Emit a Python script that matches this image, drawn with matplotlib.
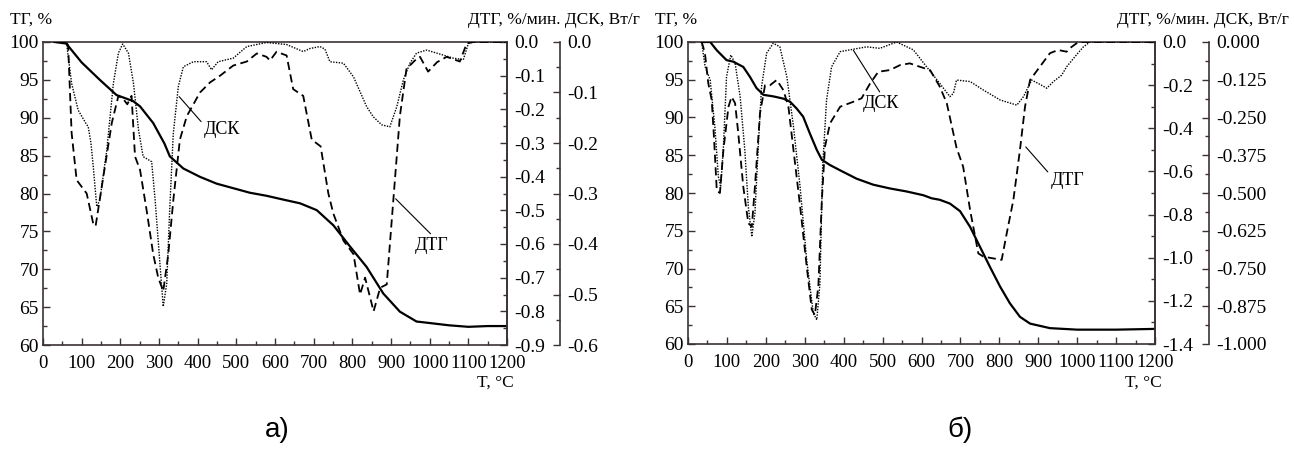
import matplotlib
matplotlib.use("Agg")
import matplotlib.pyplot as plt
from matplotlib.ticker import MultipleLocator, FormatStrFormatter

plt.rcParams['font.family'] = ['Liberation Serif', 'DejaVu Serif']
plt.rcParams['axes.unicode_minus'] = False

# ---- sample а ----
a_tg_t = [30, 60, 100, 147, 190, 233, 251, 285, 314, 328, 363, 406, 449, 492, 535,
          578, 621, 665, 708, 751, 794, 837, 880, 923, 966, 1000, 1050, 1100, 1150, 1200]
a_tg = [100, 99.8, 97.3, 95.0, 93.0, 92.2, 91.5, 89.3, 86.6, 84.9, 83.3, 82.2, 81.3, 80.7, 80.1,
        79.7, 79.2, 78.7, 77.8, 75.8, 73.0, 70.3, 66.8, 64.4, 63.1, 62.9, 62.6, 62.4, 62.5, 62.5]

a_dtg_t = [30, 60, 65, 74, 87, 113, 130, 136, 156, 178, 195, 208, 218, 229, 238, 251, 268, 285,
           298, 311, 324, 337, 354, 372, 406, 432, 458, 492, 527, 553, 578, 587, 604, 630, 647,
           673, 695, 718, 738, 751, 777, 803, 820, 833, 855, 872, 889, 906, 923, 940, 966, 975,
           996, 1019, 1044, 1078, 1096, 1113, 1200]
a_dtg = [0, 0, -0.01, -0.27, -0.41, -0.45, -0.54, -0.547, -0.40, -0.24, -0.16, -0.17, -0.185,
         -0.16, -0.34, -0.38, -0.50, -0.63, -0.70, -0.74, -0.63, -0.47, -0.29, -0.22, -0.15,
         -0.12, -0.10, -0.07, -0.058, -0.034, -0.044, -0.055, -0.029, -0.04, -0.14, -0.16,
         -0.29, -0.31, -0.45, -0.51, -0.59, -0.63, -0.75, -0.70, -0.80, -0.73, -0.72, -0.47,
         -0.22, -0.08, -0.05, -0.044, -0.088, -0.06, -0.044, -0.058, -0.004, 0, 0]

a_dsc_t = [30, 55, 61, 74, 91, 110, 117, 124, 130, 139, 147, 165, 182, 195, 206, 221, 234, 247,
           259, 281, 290, 303, 311, 320, 328, 337, 350, 363, 389, 423, 436, 453, 492, 527, 578,
           630, 673, 690, 716, 729, 742, 777, 803, 837, 854, 876, 897, 915, 932, 949, 966, 992,
           1027, 1061, 1087, 1100, 1113, 1200]
a_dsc = [0, 0, -0.003, -0.082, -0.135, -0.16, -0.168, -0.20, -0.247, -0.326, -0.313, -0.214,
         -0.082, -0.022, -0.004, -0.022, -0.082, -0.174, -0.227, -0.237, -0.313, -0.445, -0.524,
         -0.478, -0.326, -0.181, -0.088, -0.049, -0.039, -0.039, -0.055, -0.039, -0.032, -0.009,
         -0.001, -0.005, -0.019, -0.013, -0.009, -0.014, -0.039, -0.042, -0.069, -0.128, -0.148,
         -0.164, -0.168, -0.128, -0.075, -0.042, -0.022, -0.016, -0.024, -0.032, -0.035, -0.003,
         0, 0]

# ---- sample б ----
b_tg_t = [35, 57, 74, 99, 116, 142, 159, 176, 194, 219, 245, 262, 279, 296, 313, 331, 344, 365,
          391, 433, 476, 519, 562, 605, 626, 647, 673, 699, 725, 750, 776, 802, 827, 853, 879,
          930, 1000, 1100, 1200]
b_tg = [100, 100, 98.9, 97.6, 97.4, 96.7, 95.4, 93.9, 93.0, 92.8, 92.5, 92.1, 91.2, 90.1, 87.9,
        85.7, 84.4, 83.7, 83.0, 81.9, 81.1, 80.6, 80.2, 79.7, 79.3, 79.1, 78.6, 77.6, 75.5, 72.9,
        70.2, 67.6, 65.4, 63.6, 62.7, 62.1, 61.9, 61.9, 62.0]

b_dtg_t = [35, 39, 44, 52, 61, 67, 74, 82, 91, 104, 112, 121, 129, 142, 155, 164, 172, 185, 198,
           211, 228, 245, 258, 271, 288, 305, 318, 326, 335, 344, 352, 365, 391, 425, 446, 468,
           489, 519, 545, 570, 596, 622, 647, 665, 690, 707, 725, 746, 759, 784, 806, 819, 836,
           853, 866, 879, 904, 930, 951, 973, 981, 1003, 1200]
b_dtg = [0, -0.022, -0.06, -0.19, -0.27, -0.45, -0.69, -0.70, -0.50, -0.30, -0.254, -0.284,
         -0.42, -0.67, -0.84, -0.856, -0.67, -0.33, -0.20, -0.20, -0.176, -0.223, -0.30, -0.50,
         -0.76, -1.04, -1.24, -1.266, -1.13, -0.73, -0.485, -0.377, -0.30, -0.277, -0.261,
         -0.192, -0.138, -0.13, -0.107, -0.099, -0.115, -0.13, -0.207, -0.284, -0.49, -0.578,
         -0.78, -0.98, -0.995, -1.003, -1.01, -0.887, -0.733, -0.50, -0.30, -0.176, -0.115,
         -0.052, -0.037, -0.045, -0.029, 0, 0]

b_dsc_t = [35, 44, 57, 69, 78, 84, 91, 99, 110, 121, 134, 146, 155, 164, 172, 181, 189, 202, 219,
           236, 254, 271, 288, 305, 322, 331, 339, 346, 356, 369, 391, 416, 459, 493, 536, 579,
           613, 647, 673, 682, 690, 725, 759, 802, 845, 862, 883, 904, 922, 939, 960, 973, 994,
           1016, 1033, 1200]
b_dsc = [0, -0.082, -0.126, -0.28, -0.446, -0.48, -0.347, -0.115, -0.043, -0.07, -0.181, -0.358,
         -0.545, -0.645, -0.567, -0.335, -0.148, -0.037, -0.004, -0.016, -0.115, -0.28, -0.479,
         -0.722, -0.898, -0.92, -0.80, -0.413, -0.192, -0.082, -0.032, -0.026, -0.016, -0.021, 0,
         -0.026, -0.082, -0.137, -0.181, -0.17, -0.126, -0.131, -0.159, -0.192, -0.209, -0.181,
         -0.126, -0.14, -0.153, -0.131, -0.11, -0.082, -0.049, -0.016, 0, 0]

W, H = 1294, 451
SPINE = '#3a3232'
FS_TICK = 14
FS_XTICK = 13.5
FS_TEXT = 12.5
FS_NOTE = 13

fig = plt.figure(figsize=(W / 100, H / 100), dpi=100)


def px_box(x0, y0, x1, y1):
    return [x0 / W, 1 - y1 / H, (x1 - x0) / W, (y1 - y0) / H]


def style_ticks(ax):
    ax.tick_params(which='both', direction='in', colors=SPINE, labelcolor='black',
                   labelsize=FS_TICK, width=1.0)
    ax.tick_params(which='major', length=5)
    ax.tick_params(which='minor', length=3)


def side_axis(ax, ymin, step, fmt):
    ax.set_ylim(ymin, 0)
    ax.yaxis.set_major_locator(MultipleLocator(step))
    ax.yaxis.set_minor_locator(MultipleLocator(step / 2))
    ax.yaxis.set_major_formatter(FormatStrFormatter(fmt))
    style_ticks(ax)
    ax.tick_params(axis='y', pad=5)
    for s in ax.spines.values():
        s.set_visible(False)
    ax.spines['right'].set_visible(True)
    ax.spines['right'].set_color(SPINE)
    ax.spines['right'].set_linewidth(1.2)


def draw_panel(box, dsc_x, tg, dtg, dsc, dtg_min, dtg_step, dsc_min, dsc_step, dsc_fmt,
               notes, letter, letter_x):
    x0, y0, x1, y1 = box
    ax = fig.add_axes(px_box(x0, y0, x1, y1))
    ax_dtg = ax.twinx()
    ax_dsc = ax.twinx()

    ax.set_xlim(0, 1200)
    ax.set_ylim(60, 100)
    ax.xaxis.set_major_locator(MultipleLocator(100))
    ax.xaxis.set_minor_locator(MultipleLocator(50))
    ax.yaxis.set_major_locator(MultipleLocator(5))
    ax.yaxis.set_minor_locator(MultipleLocator(2.5))
    style_ticks(ax)
    ax.tick_params(axis='y', pad=3)
    ax.tick_params(axis='x', pad=7, labelsize=FS_XTICK)
    ax.tick_params(axis='x', which='both', top=False)
    for s in ax.spines.values():
        s.set_color(SPINE)
        s.set_linewidth(1.2)

    side_axis(ax_dtg, dtg_min, dtg_step, '%.1f')
    side_axis(ax_dsc, dsc_min, dsc_step, dsc_fmt)
    ax_dsc.spines['right'].set_position(('axes', (dsc_x - x0) / (x1 - x0)))

    ax.plot(tg[0], tg[1], color='black', lw=1.6, zorder=5)
    ax_dtg.plot(dtg[0], dtg[1], color='black', lw=1.3, dashes=(4.5, 2.5))
    ax_dsc.plot(dsc[0], dsc[1], color='black', lw=1.0, linestyle=(0, (1, 1)))

    for label, xy, xytext, rel in notes:
        ax.annotate(label, xy=xy, xytext=xytext, fontsize=FS_NOTE, ha='center', va='center',
                    arrowprops=dict(arrowstyle='-', color='black', lw=0.8,
                                    shrinkA=0, shrinkB=0, relpos=rel), zorder=6)

    fig.text((x0 - 33) / W, 1 - 20 / H, 'ТГ, %', fontsize=FS_TEXT, ha='left', va='center')
    fig.text((dsc_x + 80) / W, 1 - 20 / H, 'ДТГ, %/мин. ДСК, Вт/г', fontsize=FS_TEXT,
             ha='right', va='center')
    fig.text((x1 - 12) / W, 1 - 383 / H, 'T, °C', fontsize=FS_TEXT, ha='center', va='center')
    fig.text(letter_x / W, 1 - 430 / H, letter, fontsize=20, ha='center', va='center',
             family='Liberation Sans')


draw_panel((43, 42, 507, 345), 560,
           (a_tg_t, a_tg), (a_dtg_t, a_dtg), (a_dsc_t, a_dsc),
           -0.9, 0.1, -0.6, 0.1, '%.1f',
           [('ДСК', (352, 92.8), (463, 88.4), (0, 0.8)),
            ('ДТГ', (912, 79.3), (1005, 73.2), (0.55, 1))],
           'а)', 277)

draw_panel((688, 42, 1155, 344), 1209,
           (b_tg_t, b_tg), (b_dtg_t, b_dtg), (b_dsc_t, b_dsc),
           -1.4, 0.2, -1.0, 0.125, '%.3f',
           [('ДСК', (425, 98.9), (497, 91.9), (0.5, 1)),
            ('ДТГ', (868, 86.1), (975, 81.7), (0, 0.8))],
           'б)', 960)

fig.savefig('out.png', dpi=100)
